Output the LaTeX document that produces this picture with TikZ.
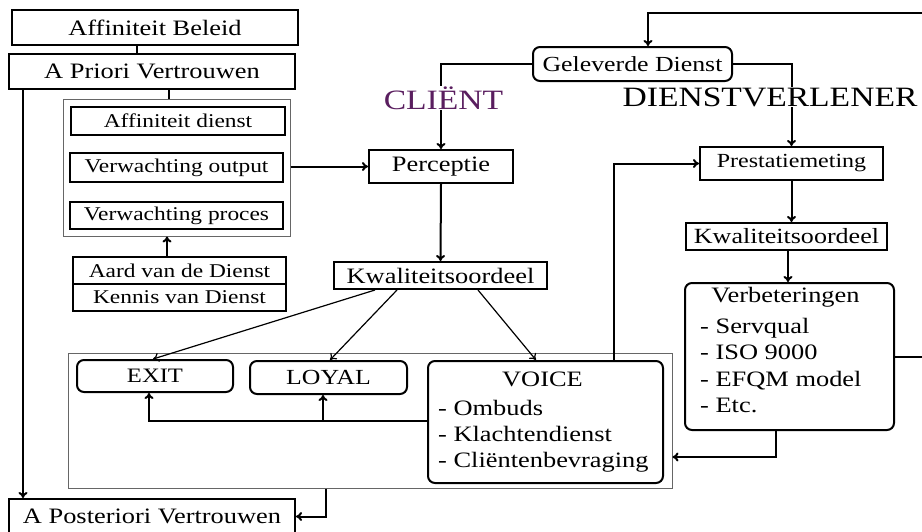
\documentclass[tikz,border=0pt]{standalone}
\usepackage{fontspec}
\setmainfont[FakeStretch=1.2]{Liberation Serif}
\usetikzlibrary{arrows.meta,calc}
\definecolor{clientpurple}{RGB}{90,30,95}
\tikzset{
  box/.style={draw, line width=2pt, inner sep=0pt, font=\fontsize{22}{26}\selectfont},
  sbox/.style={box, font=\fontsize{19.5}{23}\selectfont},
  rbox/.style={box, rounded corners=7pt},
  grpbox/.style={draw=black!60, line width=1pt, inner sep=0pt},
  conn/.style={line width=2pt, -{To[length=6pt,width=9pt]}},
  plainline/.style={line width=2pt},
  thinconn/.style={line width=1.2pt, -{To[length=6pt,width=9pt]}},
  head/.style={fill=white, inner sep=1pt, font=\fontsize{28}{30}\selectfont},
  lbl/.style={inner sep=0pt, anchor=base west, font=\fontsize{22}{26}\selectfont},
  ttl/.style={inner sep=0pt, anchor=base, font=\fontsize{22}{26}\selectfont},
}
\begin{document}
\begin{tikzpicture}[x=1pt,y=-1pt]
\useasboundingbox[fill=white] (0,0) rectangle (922,531);
% group boxes
\node[grpbox, minimum width=227pt, minimum height=137pt] (g1) at (176.5,167.5) {};
\node[grpbox, minimum width=604pt, minimum height=135pt] (g2) at (370,420.5) {};
% left column
\node[box, minimum width=286pt, minimum height=35pt] (beleid) at (155,27.5) {Affiniteit Beleid};
\node[box, minimum width=286pt, minimum height=35pt] (priori) at (152,71.5) {A Priori Vertrouwen};
\node[sbox, minimum width=214pt, minimum height=28pt] (affd) at (178,121) {Affiniteit dienst};
\node[sbox, minimum width=213pt, minimum height=29pt] (vout) at (176.5,167.5) {Verwachting output};
\node[sbox, minimum width=213pt, minimum height=27pt] (vproc) at (176.5,215.5) {Verwachting proces};
\node[sbox, minimum width=213pt, minimum height=27pt] (aard) at (179.5,270.5) {Aard van de Dienst};
\node[sbox, minimum width=213pt, minimum height=27pt] (kennis) at (179.5,297.5) {Kennis van Dienst};
\node[box, minimum width=286pt, minimum height=35pt] (posteriori) at (152,516.5) {A Posteriori Vertrouwen};
% middle
\node[rbox, minimum width=199pt, minimum height=34pt, font=\fontsize{21.5}{26}\selectfont] (geleverd) at (632.5,64) {Geleverde Dienst};
\node[box, minimum width=144pt, minimum height=33pt] (perceptie) at (441,166.5) {Perceptie};
\node[box, minimum width=213pt, minimum height=27pt] (kwalone) at (440.5,275.5) {Kwaliteitsoordeel};
\node[rbox, minimum width=156pt, minimum height=32pt, font=\fontsize{20.5}{24}\selectfont] (exit) at (155,376) {EXIT};
\node[rbox, minimum width=157pt, minimum height=33pt, font=\fontsize{21.5}{24}\selectfont] (loyal) at (328.5,377.5) {LOYAL};
\node[rbox, minimum width=235pt, minimum height=122pt] (voice) at (545.5,422) {};
\node[ttl] (voicet) at (542.5,386) {VOICE};
\node[lbl] (v1) at (438,415) {- Ombuds};
\node[lbl] (v2) at (438,441) {- Klachtendienst};
\node[lbl] (v3) at (438,467) {- Cliëntenbevraging};
% right
\node[box, minimum width=183pt, minimum height=33pt, font=\fontsize{20}{24}\selectfont] (prest) at (791.5,163.5) {Prestatiemeting};
\node[box, minimum width=201pt, minimum height=27pt, font=\fontsize{21.7}{24}\selectfont] (kwaltwo) at (786.5,236.5) {Kwaliteitsoordeel};
\node[rbox, minimum width=209pt, minimum height=147pt] (verb) at (789.5,356.5) {};
\node[ttl] (verbt) at (785.5,302) {Verbeteringen};
\node[lbl] (b1) at (700,333) {- Servqual};
\node[lbl] (b2) at (700,359) {- ISO 9000};
\node[lbl] (b3) at (700,386) {- EFQM model};
\node[lbl] (b4) at (700,412) {- Etc.};
% helper coordinates
\coordinate (x137) at (137,0);
\coordinate (xl) at (23,0);
\coordinate (x169) at (169,0);
\coordinate (x167) at (167,0);
\coordinate (xr) at (934,0);
\coordinate (ytop) at (0,13);
\coordinate (x648) at (648,0);
\coordinate (x788) at (788,0);
\coordinate (x375) at (375,0);
\coordinate (x153) at (153,0);
\coordinate (x397) at (397,0);
\coordinate (x330) at (330,0);
\coordinate (x478) at (478,0);
\coordinate (x536) at (536,0);
\coordinate (y421) at (0,421);
\coordinate (x149) at (149,0);
\coordinate (x323) at (323,0);
\coordinate (x614) at (614,0);
\coordinate (x776) at (776,0);
\coordinate (y457) at (0,457);
\coordinate (x326) at (326,0);
% connectors
\draw[plainline] (beleid.south -| x137) -- (priori.north -| x137);
\draw[conn] (priori.south -| xl) -- (posteriori.north -| xl);
\draw[plainline] (priori.south -| x169) -- (g1.north -| x169);
\draw[conn] (g1.east |- perceptie) -- (perceptie.west);
\draw[conn] (aard.north -| x167) -- (g1.south -| x167);
\draw[conn] (geleverd.west) -| (perceptie.north);
\node[head, text=clientpurple] (client) at (443.5,98) {CLIËNT};
\draw[conn] (geleverd.east) -| (prest.north);
\node[head] (dienstv) at (770,97) {DIENSTVERLENER};
\draw[conn] (verb.east) -- (verb.east -| xr) -- (xr |- ytop) -- (x648 |- ytop) -- (geleverd.north -| x648);
\draw[conn] (prest.south) -- (prest.south |- kwaltwo.north);
\draw[conn] (kwaltwo.south -| x788) -- (verb.north -| x788);
\draw[conn] (perceptie.south) -- (kwalone.north);
\draw[thinconn] (kwalone.south -| x375) -- (exit.north -| x153);
\draw[thinconn] (kwalone.south -| x397) -- (loyal.north -| x330);
\draw[thinconn] (kwalone.south -| x478) -- (voice.north -| x536);
\draw[conn] (voice.west |- y421) -| (exit.south -| x149);
\draw[conn] (x323 |- y421) -- (loyal.south -| x323);
\draw[conn] (voice.north -| x614) |- (prest.west);
\draw[conn] (verb.south -| x776) |- (g2.east |- y457);
\draw[conn] (g2.south -| x326) |- (posteriori.east);
\end{tikzpicture}
\end{document}
